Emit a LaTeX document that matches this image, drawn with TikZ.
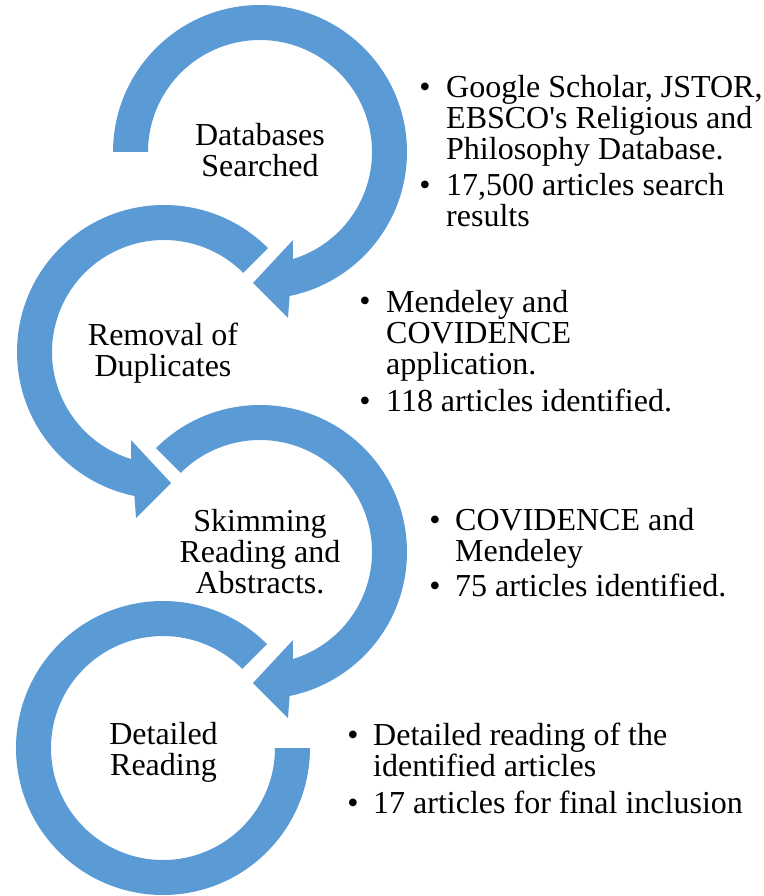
\documentclass[tikz,border=0pt]{standalone}
\usepackage{fontspec}
\setmainfont{Liberation Serif}
\usetikzlibrary{calc}

\definecolor{ringblue}{RGB}{91,155,213}

\tikzset{
  ring/.style={fill=ringblue, draw=none},
  stage/.style={align=center, anchor=base, inner sep=0pt},
  item/.style={align=left, anchor=base west, inner sep=0pt},
  dot/.style={anchor=base, inner sep=0pt}
}

\begin{document}
\begin{tikzpicture}[x=1pt, y=1pt, font=\fontsize{32pt}{31pt}\selectfont]

  \useasboundingbox (0,0) rectangle (763,-896);

  % --- Define ring centres ---
  \coordinate (C1) at (260,-152);
  \coordinate (C2) at (164,-352);
  \coordinate (C3) at (260,-552);
  \coordinate (C4) at (163,-748);

  % --- Ring 1: clockwise, head at the bottom ---
  \fill[ring, shift={(C1)}] (180:147pt)
    arc[start angle=180, end angle=-78.4, radius=147pt]
    -- (28pt,-166pt) -- (-7pt,-131pt) -- (33pt,-88pt) -- (-73:112pt)
    arc[start angle=-73, end angle=180, radius=112pt] -- cycle;

  % --- Ring 2: anticlockwise, head at the bottom ---
  \fill[ring, shift={(C2)}] (45:147pt)
    arc[start angle=45, end angle=258.4, radius=147pt]
    -- (-28pt,-166pt) -- (7pt,-131pt) -- (-33pt,-88pt) -- (253:112pt)
    arc[start angle=253, end angle=45, radius=112pt] -- cycle;

  % --- Ring 3: clockwise, head at the bottom ---
  \fill[ring, shift={(C3)}] (135:147pt)
    arc[start angle=135, end angle=-78.4, radius=147pt]
    -- (28pt,-166pt) -- (-7pt,-131pt) -- (33pt,-88pt) -- (-73:112pt)
    arc[start angle=-73, end angle=135, radius=112pt] -- cycle;

  % --- Ring 4: open ring, no head ---
  \fill[ring, shift={(C4)}] (45:147pt)
    arc[start angle=45, end angle=360, radius=147pt]
    -- (0:112pt)
    arc[start angle=360, end angle=45, radius=112pt] -- cycle;

  % --- Stage labels (placed at the baseline of their last line) ---
  \node[stage] (databases) at (260,-176.7) {Databases\\Searched};
  \node[stage] (removal) at (163,-376.7) {Removal of\\Duplicates};
  \node[stage] (skimming) at (260,-593.3) {Skimming\\Reading and\\Abstracts.};
  \node[stage] (detailed) at (163.5,-775) {Detailed\\Reading};

  % --- Notes for stage 1 ---
  \node[dot] (d1a) at (425,-97.3) {•};
  \node[item] (n1a) at (446,-159.3) {Google Scholar, JSTOR,\\EBSCO\textquotesingle s Religious and\\Philosophy Database.};
  \node[dot] (d1b) at (425,-196) {•};
  \node[item] (n1b) at (446,-226.7) {17,500 articles search\\results};

  % --- Notes for stage 2 ---
  \node[dot] (d2a) at (365,-311.7) {•};
  \node[item] (n2a) at (386,-374.3) {Mendeley and\\COVIDENCE\\application.};
  \node[dot] (d2b) at (365,-411) {•};
  \node[item] (n2b) at (386,-411) {118 articles identified.};

  % --- Notes for stage 3 ---
  \node[dot] (d3a) at (435,-530) {•};
  \node[item] (n3a) at (455,-561) {COVIDENCE and\\Mendeley};
  \node[dot] (d3b) at (435,-596.7) {•};
  \node[item] (n3b) at (455,-596.7) {75 articles identified.};

  % --- Notes for stage 4 ---
  \node[dot] (d4a) at (353,-745) {•};
  \node[item] (n4a) at (373,-776.7) {Detailed reading of the\\identified articles};
  \node[dot] (d4b) at (353,-813) {•};
  \node[item] (n4b) at (373,-813) {17 articles for final inclusion};

\end{tikzpicture}
\end{document}
